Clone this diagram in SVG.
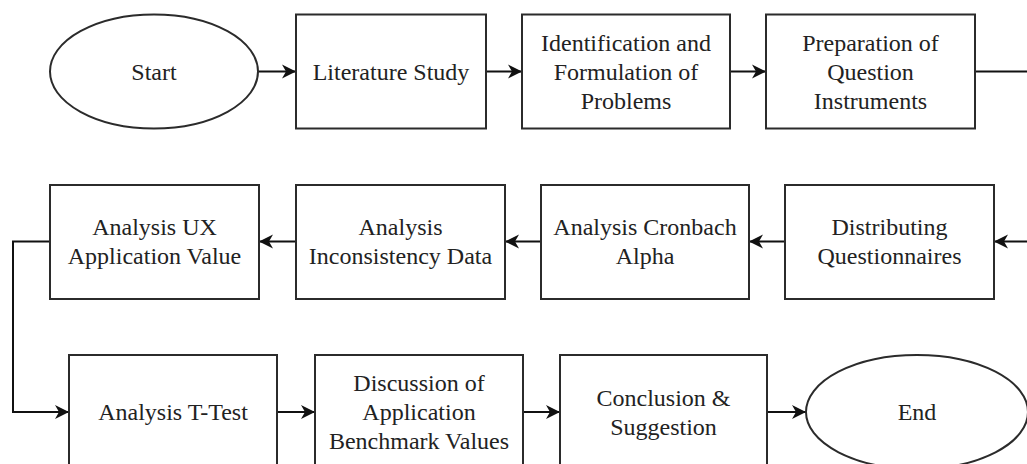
<svg xmlns="http://www.w3.org/2000/svg" width="1027" height="464" viewBox="0 0 1027 464">
<style>
.box{fill:#fff;stroke:#2b2b2b;stroke-width:2}
.lbl{font-family:"Liberation Serif","Times New Roman",serif;font-size:24px;fill:#222;text-anchor:middle}
.edge{fill:none;stroke:#111;stroke-width:2}
</style>
<defs>
<marker id="arr" markerUnits="userSpaceOnUse" markerWidth="16" markerHeight="16" refX="14" refY="8" orient="auto">
<path d="M14,8 L0,1 L4,8 L0,15 Z" fill="#111"/>
</marker>
</defs>
<rect width="1027" height="464" fill="#fff"/>
<g id="connectors">
<path class="edge" d="M258,71.5 H296" marker-end="url(#arr)"/>
<path class="edge" d="M486,71.5 H522" marker-end="url(#arr)"/>
<path class="edge" d="M730,71.5 H766" marker-end="url(#arr)"/>
<path class="edge" d="M975,71.5 H1027"/>
<path class="edge" d="M1027,241.5 H994" marker-end="url(#arr)"/>
<path class="edge" d="M785,241.5 H749" marker-end="url(#arr)"/>
<path class="edge" d="M541,241.5 H505" marker-end="url(#arr)"/>
<path class="edge" d="M296,241.5 H259" marker-end="url(#arr)"/>
<path class="edge" d="M50,241.5 H13 V412 H69" marker-end="url(#arr)"/>
<path class="edge" d="M277,412 H315" marker-end="url(#arr)"/>
<path class="edge" d="M523,412 H560" marker-end="url(#arr)"/>
<path class="edge" d="M767,412 H806" marker-end="url(#arr)"/>
</g>
<g id="start"><ellipse class="box" cx="154" cy="71.5" rx="104" ry="57"/><text class="lbl" x="154" y="80">Start</text></g>
<g id="literature"><rect class="box" x="296" y="14.5" width="190" height="114"/><text class="lbl" x="391" y="80">Literature Study</text></g>
<g id="identification"><rect class="box" x="522" y="14.5" width="208" height="114"/><text class="lbl" x="626"><tspan x="626" y="51">Identification and</tspan><tspan x="626" y="80">Formulation of</tspan><tspan x="626" y="109">Problems</tspan></text></g>
<g id="preparation"><rect class="box" x="766" y="14.5" width="209" height="114"/><text class="lbl" x="870.5"><tspan x="870.5" y="51">Preparation of</tspan><tspan x="870.5" y="80">Question</tspan><tspan x="870.5" y="109">Instruments</tspan></text></g>
<g id="distributing"><rect class="box" x="785" y="185" width="209" height="114"/><text class="lbl" x="889.5"><tspan x="889.5" y="235">Distributing</tspan><tspan x="889.5" y="264">Questionnaires</tspan></text></g>
<g id="cronbach"><rect class="box" x="541" y="185" width="208" height="114"/><text class="lbl" x="645"><tspan x="645" y="235">Analysis Cronbach</tspan><tspan x="645" y="264">Alpha</tspan></text></g>
<g id="inconsistency"><rect class="box" x="296" y="185" width="209" height="114"/><text class="lbl" x="400.5"><tspan x="400.5" y="235">Analysis</tspan><tspan x="400.5" y="264">Inconsistency Data</tspan></text></g>
<g id="ux"><rect class="box" x="50" y="185" width="209" height="114"/><text class="lbl" x="154.5"><tspan x="154.5" y="235">Analysis UX</tspan><tspan x="154.5" y="264">Application Value</tspan></text></g>
<g id="ttest"><rect class="box" x="69" y="355" width="208" height="114"/><text class="lbl" x="173" y="420">Analysis T-Test</text></g>
<g id="discussion"><rect class="box" x="315" y="355" width="208" height="114"/><text class="lbl" x="419"><tspan x="419" y="391">Discussion of</tspan><tspan x="419" y="420">Application</tspan><tspan x="419" y="449">Benchmark Values</tspan></text></g>
<g id="conclusion"><rect class="box" x="560" y="355" width="207" height="114"/><text class="lbl" x="663.5"><tspan x="663.5" y="406">Conclusion &amp;</tspan><tspan x="663.5" y="435">Suggestion</tspan></text></g>
<g id="end"><ellipse class="box" cx="917" cy="412" rx="111" ry="57"/><text class="lbl" x="917" y="420">End</text></g>
</svg>
